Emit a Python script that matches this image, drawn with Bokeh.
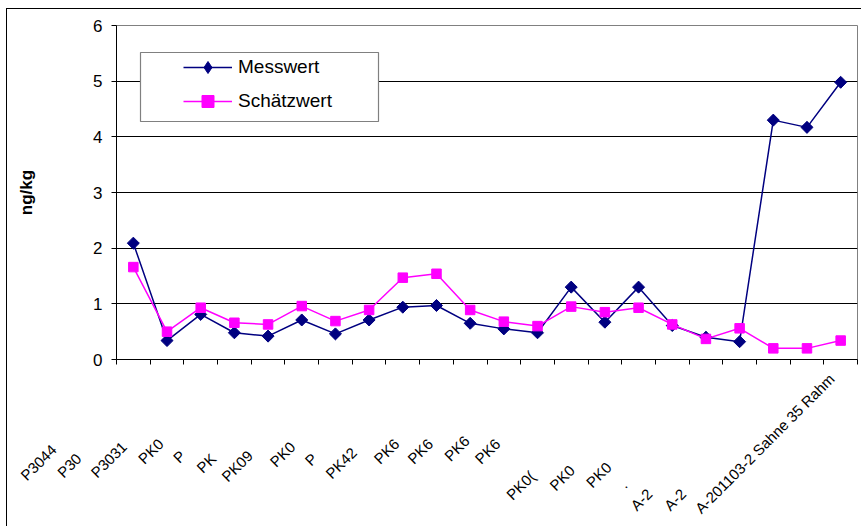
from math import pi
from bokeh.plotting import figure
from bokeh.models import FixedTicker, Legend, LegendItem, BoxAnnotation, Range1d
from bokeh.embed import file_html
from bokeh.resources import INLINE

# category labels (only the legible beginnings of the sample names)
labels = ["P3044", "P30", "P3031", "PK0", "P", "PK", "PK09", "PK0", "P", "PK42",
          "PK6", "PK6", "PK6", "PK6", "", "PK0(", "PK0", "PK0", ".", "A-2", "A-2",
          "A-201103-2 Sahne 35 Rahm"]
messwert = [2.09, 0.34, 0.81, 0.48, 0.42, 0.71, 0.46, 0.71, 0.94, 0.97, 0.65,
            0.55, 0.48, 1.30, 0.67, 1.30, 0.61, 0.40, 0.32, 4.30, 4.17, 4.98]
schaetzwert = [1.66, 0.50, 0.93, 0.66, 0.63, 0.96, 0.69, 0.89, 1.47, 1.54, 0.89,
               0.68, 0.60, 0.95, 0.85, 0.93, 0.63, 0.37, 0.56, 0.20, 0.20, 0.34]
y_ticks = [0, 1, 2, 3, 4, 5, 6]
series_names = ["Messwert", "Schätzwert"]

# hidden remainder of each (truncated) label, as non-breaking spaces
label_pad = [27, 30, 26, 25, 29, 30, 29, 26, 30, 28, 25, 25, 24, 25, 0,
             36, 34, 33, 39, 42, 42, 3]

FONT = "Liberation Sans"
NAVY = "#000080"
MAGENTA = "#FF00FF"

x = list(range(1, len(labels) + 1))
NBSP = "\u00a0"
overrides = {i: lab + NBSP * n for i, lab, n in zip(x, labels, label_pad)}

p = figure(width=855, height=518, output_backend="svg", toolbar_location=None,
           x_range=Range1d(0.5, len(labels) + 0.5), y_range=Range1d(0, 6),
           min_border_left=109, min_border_right=5, min_border_top=16,
           min_border_bottom=168,
           background_fill_color="white", border_fill_color="white",
           styles={"margin-left": "6px", "margin-top": "8px",
                   "border-left": "1px solid #000000",
                   "border-top": "1px solid #000000"})

p.outline_line_color = "#808080"
p.outline_line_width = 1

# grid
p.xgrid.visible = False
p.ygrid.grid_line_color = "#000000"
p.ygrid.grid_line_width = 1
p.ygrid.ticker = FixedTicker(ticks=y_ticks)

# y axis
p.yaxis.ticker = FixedTicker(ticks=y_ticks)
p.yaxis.axis_line_color = "#000000"
p.yaxis.major_tick_out = 5
p.yaxis.major_tick_in = 0
p.yaxis.minor_tick_line_color = None
p.yaxis.major_label_text_font = FONT
p.yaxis.major_label_text_font_size = "17px"
p.yaxis.major_label_text_color = "#000000"
p.yaxis.major_label_standoff = 9
p.yaxis.axis_label = "ng/kg"
p.yaxis.axis_label_text_font = FONT
p.yaxis.axis_label_text_font_style = "bold"
p.yaxis.axis_label_text_font_size = "17px"
p.yaxis.axis_label_text_color = "#000000"
p.yaxis.axis_label_standoff = 54

# x axis: labels at category centres, tick marks at category boundaries
p.xaxis.ticker = FixedTicker(ticks=x, minor_ticks=[i + 0.5 for i in range(len(labels) + 1)])
p.xaxis.major_label_overrides = overrides
p.xaxis.axis_line_color = "#000000"
p.xaxis.major_tick_out = 0
p.xaxis.major_tick_in = 0
p.xaxis.minor_tick_out = 5
p.xaxis.minor_tick_in = 0
p.xaxis.minor_tick_line_color = "#000000"
p.xaxis.major_label_orientation = pi / 4
p.xaxis.major_label_text_font = FONT
p.xaxis.major_label_text_font_size = "15px"
p.xaxis.major_label_text_color = "#000000"
p.xaxis.major_label_standoff = 3

# data
l1 = p.line(x, messwert, line_color=NAVY, line_width=1.5)
# narrow diamond hidden under the rotated squares; used for the legend symbol
d1 = p.scatter(x, messwert, marker="diamond", size=10,
               fill_color=NAVY, line_color=NAVY)
s1 = p.scatter(x, messwert, marker="square", angle=pi / 4, size=8.5,
               fill_color=NAVY, line_color=NAVY)
l2 = p.line(x, schaetzwert, line_color=MAGENTA, line_width=1.5)
s2 = p.scatter(x, schaetzwert, marker="square", size=9.5,
               fill_color=MAGENTA, line_color=MAGENTA)

# legend frame
box = BoxAnnotation(left=24, right=262, bottom=238, top=307,
                    left_units="screen", right_units="screen",
                    bottom_units="screen", top_units="screen",
                    fill_color="white", fill_alpha=1.0,
                    line_color="#808080", line_width=1.2, line_alpha=1.0,
                    level="annotation")
p.add_layout(box)

legend = Legend(items=[LegendItem(label=series_names[0], renderers=[l1, d1]),
                       LegendItem(label=series_names[1], renderers=[l2, s2])],
                location=(67, 243), padding=0, spacing=4,
                glyph_width=49, glyph_height=30, label_height=30,
                label_standoff=6,
                label_text_font=FONT, label_text_font_size="19px",
                label_text_color="#000000",
                border_line_color=None, background_fill_alpha=0.0)
p.add_layout(legend)

open("out.html", "w").write(file_html(p, INLINE))
